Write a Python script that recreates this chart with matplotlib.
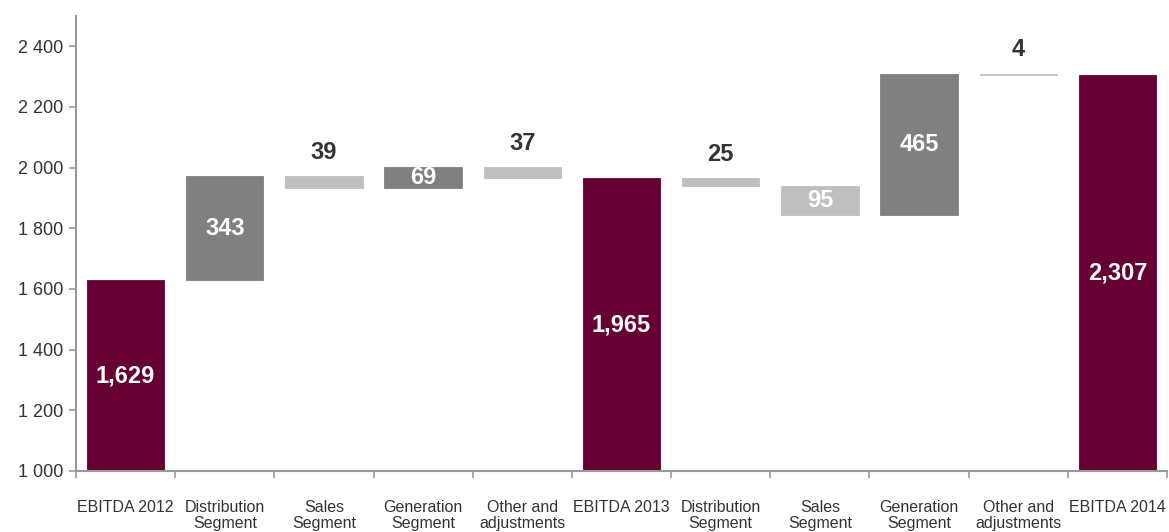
import matplotlib.pyplot as plt
from matplotlib.ticker import FuncFormatter, FixedLocator
import numpy as np

# EBITDA bridge 2012 -> 2014
categories = ['EBITDA 2012', 'Distribution\nSegment', 'Sales\nSegment', 'Generation\nSegment',
              'Other and\nadjustments', 'EBITDA 2013', 'Distribution\nSegment', 'Sales\nSegment',
              'Generation\nSegment', 'Other and\nadjustments', 'EBITDA 2014']
values = [1629, 343, -39, 69, -37, 1965, -25, -95, 465, -4, 2307]
is_total = [True, False, False, False, False, True, False, False, False, False, True]

plt.rcParams['font.family'] = ['Liberation Sans', 'DejaVu Sans']

MAROON = '#660033'
UP = '#808080'
DOWN = '#BFBFBF'
AXIS = '#999999'

fig = plt.figure(figsize=(11.69, 5.32), dpi=100)
ax = fig.add_axes([76 / 1169, 61 / 532, 1091 / 1169, 455 / 532])

x = np.arange(len(categories))
bottoms, heights, colors = [], [], []
level = 0
for v, tot in zip(values, is_total):
    if tot:
        bottoms.append(0)
        heights.append(v)
        colors.append(MAROON)
        level = v
    else:
        start = level
        level = level + v
        bottoms.append(min(start, level))
        heights.append(abs(v))
        colors.append(UP if v > 0 else DOWN)

bars = ax.bar(x, heights, bottom=bottoms, width=0.78, color=colors,
              edgecolor=colors, linewidth=0.6, zorder=2)

for i, (v, tot) in enumerate(zip(values, is_total)):
    b, h = bottoms[i], heights[i]
    if tot:
        ymid = 1000 + (b + h - 1000) / 2
        ax.text(x[i], ymid, f'{v:,}', ha='center', va='center', color='white',
                fontsize=17, fontweight='bold', zorder=3)
    elif abs(v) >= 60:
        ax.text(x[i], b + h / 2, f'{abs(v)}', ha='center', va='center', color='white',
                fontsize=17, fontweight='bold', zorder=3)
    else:
        ax.annotate(f'{abs(v)}', (x[i], b + h), xytext=(0, 9), textcoords='offset points',
                    ha='center', va='bottom', color='#333333', fontsize=17, fontweight='bold')

ax.set_ylim(1000, 2500)
ax.set_xlim(-0.5, len(categories) - 0.5)
ax.set_yticks(np.arange(1000, 2401, 200))
ax.yaxis.set_major_formatter(FuncFormatter(lambda v, p: f'{int(v):,}'.replace(',', ' ')))

# ticks at category boundaries, labels at centers
ax.xaxis.set_major_locator(FixedLocator(np.arange(-0.5, len(categories), 1.0)))
ax.xaxis.set_minor_locator(FixedLocator(x))
ax.set_xticklabels([''] * len(ax.get_xticks()))
ax.set_xticklabels(categories, minor=True, linespacing=1.05)
ax.tick_params(axis='x', which='minor', length=0, pad=21, labelsize=11.5, labelcolor='#333333')
ax.tick_params(axis='x', which='major', length=5, width=1.2, color=AXIS, direction='out')
ax.tick_params(axis='y', length=5, width=1.2, color=AXIS, labelsize=13, labelcolor='#333333', pad=4)

for s in ['top', 'right']:
    ax.spines[s].set_visible(False)
for s in ['left', 'bottom']:
    ax.spines[s].set_color(AXIS)
    ax.spines[s].set_linewidth(1.5)

fig.savefig('out.png', dpi=100)
